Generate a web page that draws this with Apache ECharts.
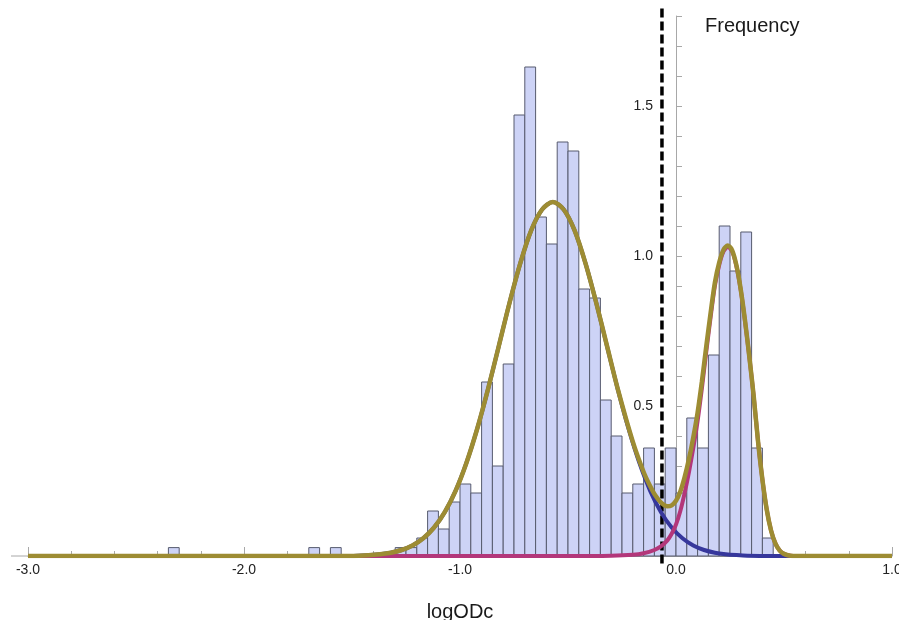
<!DOCTYPE html>
<html>
<head>
<meta charset="utf-8">
<script src="https://cdn.jsdelivr.net/npm/echarts@6/dist/echarts.min.js"></script>
<style>
html,body{margin:0;padding:0;background:#fff;}
#chart{width:899px;height:620px;}
</style>
</head>
<body>
<div id="chart"></div>
<script>
// ---------- data ----------
const BIN_WIDTH = 0.05;
const BIN_STARTS = [-2.35,-1.70,-1.60,-1.30,-1.25,-1.20,-1.15,-1.10,-1.05,-1.00,-0.95,-0.90,-0.85,-0.80,-0.75,-0.70,-0.65,-0.60,-0.55,-0.50,-0.45,-0.40,-0.35,-0.30,-0.25,-0.20,-0.15,-0.10,-0.05,0.00,0.05,0.10,0.15,0.20,0.25,0.30,0.35,0.40];
const FREQUENCIES = [0.028,0.028,0.028,0.028,0.028,0.06,0.15,0.09,0.18,0.24,0.21,0.58,0.30,0.64,1.47,1.63,1.13,1.04,1.38,1.35,0.89,0.86,0.52,0.40,0.21,0.24,0.36,0.24,0.36,0.21,0.46,0.36,0.67,1.10,0.95,1.08,0.36,0.06];

// left component (blue)
const COMP1_X = [-3.0,-1.6,-1.47,-1.37,-1.32,-1.27,-1.22,-1.17,-1.12,-1.07,-1.02,-0.97,-0.92,-0.87,-0.82,-0.77,-0.72,-0.67,-0.62,-0.57,-0.52,-0.47,-0.42,-0.37,-0.32,-0.27,-0.22,-0.17,-0.12,-0.07,-0.02,0.03,0.08,0.13,0.18,0.23,0.28,0.33,0.45,1.0];
const COMP1_Y = [0,0,0.001,0.006,0.011,0.02,0.035,0.059,0.095,0.147,0.218,0.311,0.425,0.557,0.701,0.846,0.978,1.086,1.155,1.18,1.155,1.086,0.978,0.846,0.701,0.557,0.425,0.311,0.218,0.147,0.095,0.059,0.035,0.02,0.011,0.006,0.003,0.001,0,0];

// right component (magenta)
const COMP2_X = [-3.0,-0.5,-0.3,-0.2,-0.15,-0.1,-0.07,-0.04,-0.02,0.0,0.02,0.04,0.06,0.08,0.1,0.12,0.14,0.16,0.18,0.2,0.22,0.24,0.26,0.28,0.3,0.32,0.34,0.36,0.38,0.4,0.42,0.44,0.46,0.48,0.5,0.53,0.56,1.0];
const COMP2_Y = [0,0,0.001,0.004,0.009,0.02,0.032,0.052,0.074,0.105,0.15,0.21,0.28,0.36,0.45,0.56,0.68,0.795,0.9,0.97,1.015,1.03,1.015,0.965,0.885,0.78,0.66,0.53,0.38,0.255,0.155,0.085,0.042,0.018,0.007,0.001,0,0];

// mixture (olive)
const MIX_X = [-3.0,-1.6,-1.47,-1.37,-1.32,-1.27,-1.22,-1.17,-1.12,-1.07,-1.02,-0.97,-0.92,-0.87,-0.82,-0.77,-0.72,-0.67,-0.62,-0.57,-0.52,-0.47,-0.42,-0.37,-0.32,-0.27,-0.2,-0.15,-0.12,-0.1,-0.07,-0.04,-0.02,0.0,0.02,0.04,0.06,0.08,0.1,0.12,0.14,0.16,0.18,0.2,0.22,0.24,0.26,0.28,0.3,0.32,0.34,0.36,0.38,0.4,0.42,0.44,0.46,0.48,0.5,0.53,0.56,1.0];
const MIX_Y = [0,0,0.001,0.006,0.011,0.02,0.035,0.059,0.095,0.147,0.218,0.311,0.425,0.557,0.701,0.846,0.978,1.086,1.155,1.18,1.155,1.086,0.978,0.846,0.702,0.558,0.381,0.28,0.233,0.207,0.179,0.166,0.169,0.184,0.215,0.263,0.323,0.395,0.478,0.582,0.698,0.809,0.911,0.978,1.021,1.035,1.019,0.968,0.887,0.782,0.661,0.531,0.381,0.255,0.155,0.085,0.042,0.018,0.007,0.001,0,0];

const THRESHOLD = -0.065;
const X_TICKS = [-3.0,-2.0,-1.0,0.0,1.0];
const Y_LABELS = [0.5,1.0,1.5];

function pairs(xs, ys){ return xs.map((x,i)=>[x, ys[i]]); }

const FONT = "'Liberation Sans', Arial, Helvetica, sans-serif";
const AXIS_GRAY = '#a8a8a8';
const GRID = {left: 28, right: 7, top: 16, bottom: 64};
const W = 899;

// place the y axis at x = 0 of the x scale (offset inward from grid left)
const xMin = X_TICKS[0], xMax = X_TICKS[X_TICKS.length-1];
const gridWidth = W - GRID.left - GRID.right;
const yAxisOffset = -((0 - xMin) / (xMax - xMin)) * gridWidth;

const chart = echarts.init(document.getElementById('chart'), null, {renderer:'canvas'});

const option = {
  animation: false,
  backgroundColor: '#ffffff',
  textStyle: {fontFamily: FONT},
  title: {
    text: 'Frequency', left: 700, top: 11,
    textStyle: {fontSize: 20, fontWeight: 'normal', color: '#1a1a1a', fontFamily: FONT}
  },
  grid: Object.assign({containLabel: false, outerBoundsMode: 'none'}, GRID),
  xAxis: {
    type: 'value', min: xMin, max: xMax, interval: 1,
    name: 'logODc', nameLocation: 'middle', nameGap: 46,
    nameTextStyle: {fontSize: 20, color: '#1a1a1a', fontFamily: FONT},
    splitLine: {show: false},
    axisLine: {show: true, onZero: false, lineStyle: {color: AXIS_GRAY, width: 1}},
    axisTick: {show: true, inside: true, length: 9, lineStyle: {color: AXIS_GRAY}},
    minorTick: {show: true, splitNumber: 5, length: 5, lineStyle: {color: AXIS_GRAY}},
    axisLabel: {show: true, margin: 7, fontSize: 14, color: '#222', fontFamily: FONT,
      customValues: X_TICKS, formatter: v => v.toFixed(1)}
  },
  yAxis: {
    type: 'value', min: 0, max: 1.8, interval: 0.1,
    position: 'left', offset: yAxisOffset,
    splitLine: {show: false},
    axisLine: {show: true, onZero: false, lineStyle: {color: AXIS_GRAY, width: 1}},
    axisTick: {show: true, inside: true, length: 6, lineStyle: {color: AXIS_GRAY}},
    axisLabel: {show: true, margin: 23, fontSize: 14, color: '#222', fontFamily: FONT,
      customValues: Y_LABELS, formatter: v => v.toFixed(1)}
  },
  series: [
    {
      type: 'custom', name: 'hist', z: 1,
      data: pairs(BIN_STARTS, FREQUENCIES),
      encode: {x: 0, y: 1},
      renderItem: function(params, api){
        const x0 = api.value(0), h = api.value(1);
        const pTop = api.coord([x0, h]);
        const pBot = api.coord([x0 + BIN_WIDTH, 0]);
        return {
          type: 'rect',
          shape: {x: pTop[0], y: pTop[1], width: pBot[0]-pTop[0], height: pBot[1]-pTop[1]},
          style: {fill: '#cdd3f6', stroke: '#575b6e', lineWidth: 1}
        };
      }
    },
    {
      type: 'line', name: 'threshold', z: 2, clip: false, symbol: 'none',
      data: [[THRESHOLD, -0.025], [THRESHOLD, 1.837]],
      lineStyle: {color: '#000', width: 3.5, type: [9, 4]}
    },
    {
      type: 'line', name: 'component1', z: 3, symbol: 'none', smooth: 0.3,
      data: pairs(COMP1_X, COMP1_Y),
      lineStyle: {color: '#36379c', width: 4}
    },
    {
      type: 'line', name: 'component2', z: 4, symbol: 'none', smooth: 0.3,
      data: pairs(COMP2_X, COMP2_Y),
      lineStyle: {color: '#b3377a', width: 4}
    },
    {
      type: 'line', name: 'mixture', z: 5, symbol: 'none', smooth: 0.3,
      data: pairs(MIX_X, MIX_Y),
      lineStyle: {color: '#9d8c33', width: 4.5}
    }
  ]
};
chart.setOption(option);

// small extension of the x axis line to the left of -3.0 (as in reference)
const p = chart.convertToPixel({gridIndex: 0}, [xMin, 0]);
chart.setOption({
  graphic: [{type: 'line', z: 0, shape: {x1: p[0]-17, y1: p[1], x2: p[0], y2: p[1]},
    style: {stroke: AXIS_GRAY, lineWidth: 1}}]
});
</script>
</body>
</html>
